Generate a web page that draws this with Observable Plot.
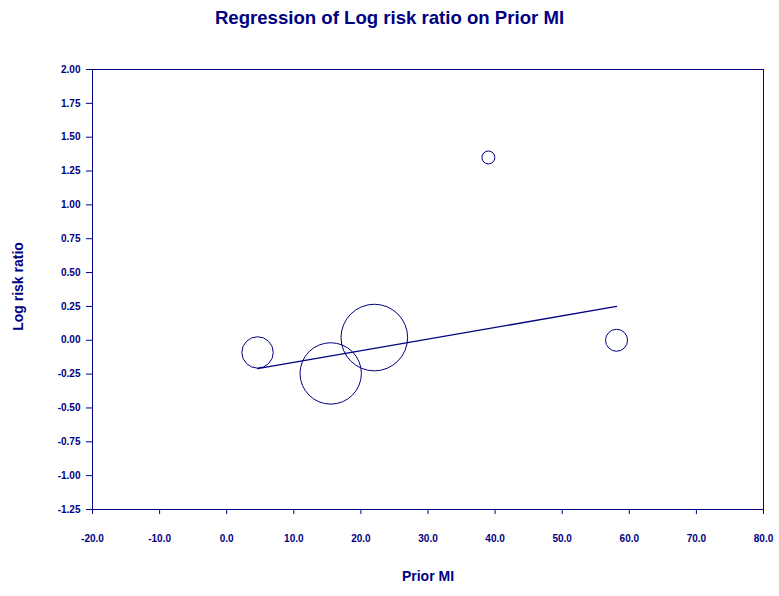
<!DOCTYPE html>
<html>
<head>
<meta charset="utf-8">
<script src="https://cdn.jsdelivr.net/npm/d3@7"></script>
<script src="https://cdn.jsdelivr.net/npm/@observablehq/plot@0.6"></script>
<style>
  html, body { margin: 0; padding: 0; background: #fff; }
  #title { height: 40px; width: 779px; text-align: center; font-family: "Liberation Sans", Arial, sans-serif;
    font-weight: bold; font-size: 18.6px; color: #000080; line-height: 36px; box-sizing: border-box; }
</style>
</head>
<body>
<div id="title">Regression of Log risk ratio on Prior MI</div>
<div id="chart"></div>
<script>
// Study data
const priorMI = [4.6, 15.5, 22.0, 39.0, 58.1];
const logRiskRatio = [-0.09, -0.245, 0.02, 1.35, 0.0];
const studyWeight = [246, 942, 1109, 42, 121];

// Regression line end points
const regPriorMI = [4.6, 58.1];
const regLogRR = [-0.21, 0.25];

// Tick values
const xTicks = [-20, -10, 0, 10, 20, 30, 40, 50, 60, 70, 80];
const yTicks = [-1.25, -1.0, -0.75, -0.5, -0.25, 0, 0.25, 0.5, 0.75, 1.0, 1.25, 1.5, 1.75, 2.0];

const studies = priorMI.map((x, i) => ({x, y: logRiskRatio[i], w: studyWeight[i]}));
const reg = regPriorMI.map((x, i) => ({x, y: regLogRR[i]}));

const navy = "#000080";

const chart = Plot.plot({
  width: 779,
  height: 556,
  marginLeft: 92,
  marginRight: 16,
  marginTop: 29,
  marginBottom: 87,
  style: {fontFamily: "'Liberation Sans', Arial, sans-serif", fontWeight: "bold", fontSize: "10px", color: navy, background: "white"},
  x: {domain: [-20, 80]},
  y: {domain: [-1.25, 2]},
  r: {type: "sqrt", domain: [0, 1109], range: [0, 33.3]},
  marks: [
    Plot.frame({stroke: navy, strokeWidth: 1}),
    Plot.axisY({ticks: yTicks, tickFormat: d => d.toFixed(2), tickSize: 6, tickPadding: 6, label: null, stroke: navy, fill: navy}),
    Plot.axisX({ticks: xTicks, tickFormat: d => d.toFixed(1), tickSize: 5, tickPadding: 20, label: null, stroke: navy, fill: navy}),
    Plot.line(reg, {x: "x", y: "y", stroke: navy, strokeWidth: 1.3}),
    Plot.dot(studies, {x: "x", y: "y", r: "w", stroke: navy, fill: "none", strokeWidth: 1}),
    Plot.text(["Prior MI"], {frameAnchor: "bottom", dy: 71, text: d => d, fontSize: 14, fontWeight: "bold", fill: navy}),
    Plot.text(["Log risk ratio"], {frameAnchor: "left", dx: -74, dy: -3, rotate: -90, textAnchor: "middle", text: d => d, fontSize: 14, fontWeight: "bold", fill: navy})
  ]
});
document.getElementById("chart").appendChild(chart);
</script>
</body>
</html>
